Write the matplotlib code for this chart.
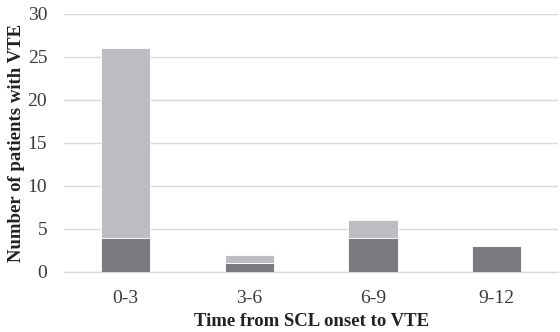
import matplotlib
matplotlib.use("Agg")
import matplotlib.pyplot as plt
import numpy as np

categories = ["0-3", "3-6", "6-9", "9-12"]
dark_values = [4, 1, 4, 3]
light_values = [22, 1, 2, 0]
yticks = [0, 5, 10, 15, 20, 25, 30]

plt.rcParams['font.family'] = ['Liberation Serif', 'DejaVu Serif']

fig = plt.figure(figsize=(5.6, 3.32), dpi=100)
ax = fig.add_axes([0.114, 0.181, 0.883, 0.777])

x = np.arange(len(categories))
ax.bar(x, dark_values, width=0.4, color="#7b7b7f", edgecolor="white", linewidth=0.6, zorder=3)
ax.bar(x, light_values, width=0.4, bottom=dark_values, color="#bcbdc1", edgecolor="white", linewidth=0.6, zorder=3)

ax.set_xlim(-0.5, 3.5)
ax.set_ylim(0, 30)
ax.set_yticks(yticks)
ax.set_xticks(x)
ax.set_xticklabels(categories)
ax.yaxis.grid(True, color="#d9d9d9", linewidth=1.0, zorder=0)
for s in ["top", "right", "left"]:
    ax.spines[s].set_visible(False)
ax.spines["bottom"].set_color("#d9d9d9")
ax.spines["bottom"].set_linewidth(1.0)
ax.tick_params(axis="both", length=0, labelsize=14, colors="#3a3a3a")
ax.tick_params(axis="y", pad=12)
ax.tick_params(axis="x", pad=13)
ax.set_ylabel("Number of patients with VTE", fontsize=13.5, fontweight="bold", labelpad=2, color="#222222")
ax.set_xlabel("Time from SCL onset to VTE", fontsize=13.5, fontweight="bold", labelpad=4, color="#222222")

fig.savefig("out.png", dpi=100)
